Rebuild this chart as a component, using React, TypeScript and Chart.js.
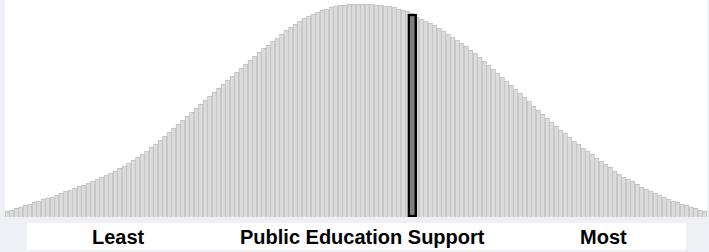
import React, { useEffect, useRef } from "react";
import { Chart, registerables } from "chart.js";

Chart.register(...registerables);

const supportValues: number[] = [
  6, 7, 9, 10, 12, 13, 15, 16, 18, 19,
  20, 22, 24, 26, 27, 29, 31, 32, 34, 36,
  38, 40, 42, 44, 46, 49, 51, 54, 57, 60,
  63, 66, 70, 73, 77, 81, 85, 89, 93, 97,
  101, 105, 109, 113, 117, 121, 125, 129, 133, 137,
  141, 145, 149, 153, 157, 161, 165, 169, 172, 176,
  179, 183, 187, 190, 193, 196, 199, 201, 203, 205,
  207, 208, 210, 211, 212, 212, 213, 213, 213, 213,
  213, 213, 212, 212, 211, 211, 210, 208, 207, 206,
  204, 200, 198, 196, 194, 192, 189, 186, 183, 180,
  177, 174, 171, 167, 164, 160, 156, 152, 148, 144,
  140, 136, 132, 128, 124, 120, 116, 111, 107, 103,
  99, 95, 91, 87, 84, 80, 76, 73, 69, 66,
  63, 59, 56, 53, 50, 46, 43, 40, 38, 36,
  33, 30, 28, 26, 24, 22, 20, 18, 16, 15,
  13, 12, 10, 9, 7, 6,
];

const highlightIndex = 90;
const highlightValue = 203;

const axisLabels: string[] = ["Least", "Public Education Support", "Most"];

export default function App() {
  const canvasRef = useRef<HTMLCanvasElement | null>(null);

  useEffect(() => {
    document.body.style.margin = "0";
    const labels = supportValues.map((_, i) => String(i));
    const highlightData = supportValues.map((_, i) => (i === highlightIndex ? highlightValue : null));
    const chart = new Chart(canvasRef.current!, {
      type: "bar",
      data: {
        labels,
        datasets: [
          {
            data: highlightData,
            backgroundColor: "#7f7f7f",
            borderColor: "#000000",
            borderWidth: 2.5,
            borderSkipped: false,
            barThickness: 9,
            grouped: false,
            order: 0,
          },
          {
            data: supportValues,
            backgroundColor: "#dcdcdc",
            borderColor: "#c0c0c0",
            borderWidth: 1,
            categoryPercentage: 1,
            barPercentage: 1,
            grouped: false,
            order: 1,
          },
        ],
      },
      options: {
        animation: false,
        responsive: false,
        maintainAspectRatio: false,
        layout: { padding: 0 },
        plugins: { legend: { display: false }, tooltip: { enabled: false } },
        scales: {
          x: { display: false, grid: { display: false } },
          y: { display: false, min: 0, max: 217, grid: { display: false } },
        },
      },
    });
    return () => chart.destroy();
  }, []);

  const textStyle: React.CSSProperties = {
    position: "absolute",
    top: 227,
    fontFamily: "'Liberation Sans', Arial, sans-serif",
    fontWeight: "bold",
    fontSize: 20,
    lineHeight: "20px",
    color: "#000",
    whiteSpace: "nowrap",
  };

  return (
    <div style={{ position: "relative", width: 709, height: 252, background: "#eef0f4", overflow: "hidden" }}>
      <div style={{ position: "absolute", left: 5, top: 0, width: 702, height: 217, background: "#ffffff" }}>
        <canvas ref={canvasRef} width={702} height={217} style={{ display: "block", width: 702, height: 217 }} />
      </div>
      <div style={{ position: "absolute", left: 27, top: 223, width: 659, height: 27, background: "#ffffff" }} />
      <span style={{ ...textStyle, left: 92 }}>{axisLabels[0]}</span>
      <span style={{ ...textStyle, left: 240 }}>{axisLabels[1]}</span>
      <span style={{ ...textStyle, left: 580 }}>{axisLabels[2]}</span>
    </div>
  );
}
